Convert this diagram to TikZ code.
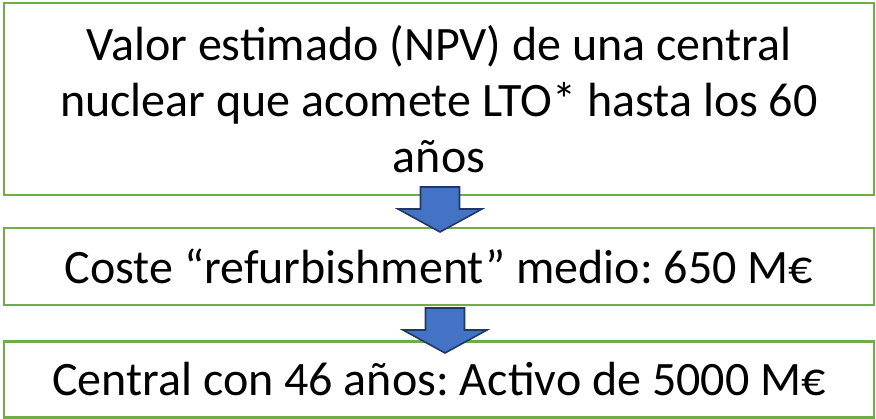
\documentclass[tikz,border=0pt]{standalone}
\usepackage{fontspec}
\setmainfont{Carlito}
\frenchspacing
\usetikzlibrary{positioning}
\definecolor{boxgreen}{HTML}{70AD47}
\definecolor{arrowblue}{HTML}{4472C4}
\definecolor{arrowline}{HTML}{1F3864}
\begin{document}
\begin{tikzpicture}
	[   x=1pt,y=-1pt,
	    bnode/.style={draw=boxgreen,line width=2.6pt,fill=white,minimum width=870pt,minimum height=#1,inner sep=0pt,align=center,font=\fontsize{48}{56}\selectfont},
	]
	\tikzset{block arrow/.style={draw=arrowline,fill=arrowblue,line width=1.6pt,line join=miter}}
	\useasboundingbox (0,0) rectangle (876,419);
	
	\node[bnode=192pt] (npv) at (439,99) {Valor estimado (NPV) de una central\\nuclear que acomete LTO* hasta los 60\\años};
	
	\node[bnode=77pt] (coste) at (439,266.5) {Coste “refurbishment” medio: 650 M€};
	
	\node[bnode=75.5pt] (activo) at (439,379.5) {Central con 46 años: Activo de 5000 M€};
	
	
	\foreach \cx/\ty in {440/187,445/308}
	{
		\path[block arrow] (\cx-19.5,\ty) -- (\cx+19.5,\ty) -- (\cx+19.5,\ty+22) -- (\cx+42,\ty+22)
		 -- (\cx,\ty+45) -- (\cx-42,\ty+22) -- (\cx-19.5,\ty+22) -- cycle;
	}
\end{tikzpicture}
\end{document}
